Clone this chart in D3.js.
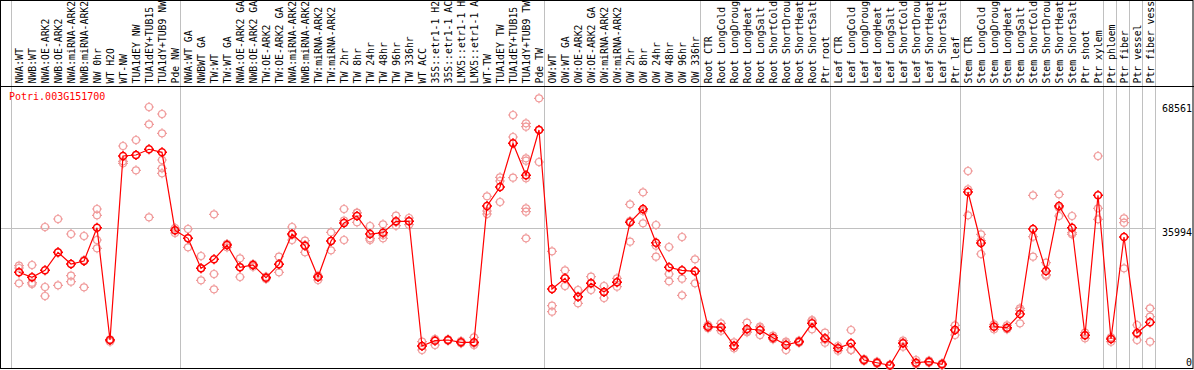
<!DOCTYPE html>
<html>
<head>
<meta charset="utf-8">
<script src="https://cdn.jsdelivr.net/npm/d3@7/dist/d3.min.js"></script>
<style>
  html, body { margin: 0; padding: 0; background: #fff; }
  svg { display: block; }
  text { font-family: "DejaVu Sans Mono", "Liberation Mono", monospace; font-size: 10px; }
  .sample-label { font-size: 9.8px; }
</style>
</head>
<body>
<div id="chart"></div>
<script>
/* global d3 */

const geneId = 'Potri.003G151700'

// sample groups, separated by grey lines
const nwSamples = ['NWA:WT', 'NWB:WT', 'NWA:OE-ARK2', 'NWB:OE-ARK2', 'NWA:miRNA-ARK2', 'NWB:miRNA-ARK2', 'NW 0hr', 'WT H2O', 'WT-NW', 'TUA1dEY NW', 'TUA1dEY+TUB15 NW', 'TUA1dY+TUB9 NW', 'Pde NW']
const twSamples = ['NWA:WT GA', 'NWBWT GA', 'TW:WT', 'TW:WT GA', 'NWA:OE-ARK2 GA', 'NWB:OE-ARK2 GA', 'TW:OE-ARK2', 'TW:OE-ARK2 GA', 'NWA:miRNA-ARK2 GA', 'NWB:miRNA-ARK2 GA', 'TW:miRNA-ARK2', 'TW:miRNA-ARK2 GA', 'TW 2hr', 'TW 8hr', 'TW 24hr', 'TW 48hr', 'TW 96hr', 'TW 336hr', 'WT ACC', '35S::etr1-1 H2O', '35S::etr1-1 ACC', 'LMX5::etr1-1 H2O', 'LMX5::etr1-1 ACC', 'WT-TW', 'TUA1dEY TW', 'TUA1dEY+TUB15 TW', 'TUA1dY+TUB9 TW', 'Pde TW']
const owSamples = ['OW:WT', 'OW:WT GA', 'OW:OE-ARK2', 'OW:OE-ARK2 GA', 'OW:miRNA-ARK2', 'OW:miRNA-ARK2 GA', 'OW 2hr', 'OW 8hr', 'OW 24hr', 'OW 48hr', 'OW 96hr', 'OW 336hr']
const rootSamples = ['Root CTR', 'Root LongCold', 'Root LongDrought', 'Root LongHeat', 'Root LongSalt', 'Root ShortCold', 'Root ShortDrought', 'Root ShortHeat', 'Root ShortSalt', 'Ptr root']
const leafSamples = ['Leaf CTR', 'Leaf LongCold', 'Leaf LongDrought', 'Leaf LongHeat', 'Leaf LongSalt', 'Leaf ShortCold', 'Leaf ShortDrought', 'Leaf ShortHeat', 'Leaf ShortSalt', 'Ptr leaf']
const stemSamples = ['Stem CTR', 'Stem LongCold', 'Stem LongDrought', 'Stem LongHeat', 'Stem LongSalt', 'Stem ShortCold', 'Stem ShortDrought', 'Stem ShortHeat', 'Stem ShortSalt', 'Ptr shoot', 'Ptr xylem']
const groups = [nwSamples, twSamples, owSamples, rootSamples, leafSamples, stemSamples, ['Ptr phloem'], ['Ptr fiber'], ['Ptr vessel'], ['Ptr fiber vessel']]
const samples = groups.flat()

// the header only has room for 14 characters
const labelChars = 14

// mean expression per sample
const means = [
  24520, 23210, 25040, 29750, 26690, 27480, 36190, 6800, 54950, 55210, 56710, 55920, 35510,
  33420, 25570, 27920, 31660, 25830, 26430, 23110, 26610, 34540, 31480, 23290, 32710, 37420, 39250, 34540,
  34880, 37870, 37870, 5230, 6620, 6800, 6200, 6200, 41870, 46840, 58280, 49900, 61760,
  20150, 22950, 18130, 21640, 19360, 21900, 37600, 41080, 32270, 25830, 25040, 24780,
  10280, 10130, 5310, 9680, 9420, 7410, 5500, 6360, 11170, 7250,
  4630, 5940, 1570, 860, 180, 5940, 860, 1130, 440, 9420,
  45530, 32190, 10280, 10020, 13610, 35850, 24860, 41870, 36190, 8030, 44670,
  7070, 33760, 8640, 11440
]

// replicate values per sample
const replicates = [
  [26250, 25650, 21640], [26430, 21800, 21460], [36370, 20670, 18320], [38470, 29670, 21120],
  [34540, 23630, 22060], [34020, 27740, 20590], [41080, 39440, 32970, 30800], [6990, 6800, 6360],
  [57570, 53570, 53040], [59140, 55210, 51210], [67780, 63250, 38910], [65940, 60890, 53910, 51730, 50430],
  [36110, 35510, 34800],
  [35850, 33500, 31060], [28780, 25570, 22430], [39700, 24070, 20070], [31920, 31920, 31060],
  [28180, 25910, 23290], [26690, 26430, 25990], [23370, 23110, 22770], [28600, 26690, 24520],
  [36370, 34280, 32970], [32790, 31660, 29750], [23630, 23290, 22500], [34990, 32710, 30280],
  [41080, 38020, 32970], [40120, 40040, 37600], [36640, 33420, 32970], [37080, 34280, 33420],
  [39330, 37680, 36710], [38730, 37940, 36980], [6360, 5230, 4190], [7070, 6800, 5500],
  [6990, 6800, 6620], [6540, 6280, 5940], [7510, 5940, 5500], [44410, 40560, 39780],
  [49380, 48410, 42920], [65680, 59930, 49270],
  [63510, 62620, 54350, 53720, 49120, 41270, 40380, 33420], [70050, 61840, 53380],
  [30010, 14210, 15780], [25040, 23030, 20930], [19890, 18060, 16410], [23370, 21720, 19890],
  [20930, 19360, 17790], [22950, 21980, 20750], [42310, 37940, 32530], [45450, 40560, 37340],
  [36900, 31480, 28600], [31140, 24070, 22160], [33760, 22840, 18500], [27920, 24860, 21640],
  [10730, 10210, 9870], [11170, 9940, 9240], [6200, 5230, 4630], [11330, 9160, 8820],
  [10280, 9940, 8110], [7930, 7330, 6990], [6360, 6020, 4190], [6620, 6360, 6100],
  [12040, 11780, 9600], [8710, 6930, 6100],
  [5230, 4710, 4000], [9420, 4190, 4190], [1860, 1570, 1280], [1130, 860, 600],
  [390, 180, 0], [6620, 6100, 5050], [1570, 520, 520], [1390, 1130, 860],
  [710, 440, 180], [10650, 9500, 8110],
  [51030, 46240, 39440], [34460, 32790, 29310], [10910, 10390, 9600], [10650, 9870, 9600],
  [15100, 14580, 11170], [44670, 33840, 28600], [27030, 23920, 23630], [44930, 41420, 39250],
  [39250, 34880, 34460], [8710, 8110, 7250], [54950, 41270, 38390],
  [7510, 7330, 6360], [38650, 37500, 25570], [10730, 8370, 6800], [15100, 12900, 6360]
]

const yTicks = [68561, 35994, 0]

const width = 1194
const height = 370
const labelBottom = 86
const plotBottom = 368

const xScale = d3.scaleBand()
  .domain(samples)
  .range([10.5, 1154.5])

const cx = (s) => xScale(s) + 8.5

const yScale = d3.scaleLinear()
  .domain([0, 68561])
  .range([366, 104])

// little circle with four ticks, like the original markers
const marker = (r) => {
  const p = d3.path()
  p.moveTo(r, 0)
  p.arc(0, 0, r, 0, 2 * Math.PI)
  p.moveTo(0, -r - 1.5); p.lineTo(0, -r)
  p.moveTo(0, r); p.lineTo(0, r + 1.5)
  p.moveTo(-r - 1.5, 0); p.lineTo(-r, 0)
  p.moveTo(r, 0); p.lineTo(r + 1.5, 0)
  return p.toString()
}

const svg = d3.select('#chart').append('svg')
  .attr('width', width)
  .attr('height', height)

// group separators
const boundaries = groups.map(g => xScale(g[0])).concat([xScale.range()[1]])
svg.append('g')
  .selectAll('line')
  .data(boundaries)
  .enter().append('line')
  .attr('x1', d => Math.round(d) + 0.5)
  .attr('x2', d => Math.round(d) + 0.5)
  .attr('y1', 0)
  .attr('y2', plotBottom)
  .attr('stroke', '#c0c0c0')

// mid reference line
svg.append('line')
  .attr('x1', 0)
  .attr('x2', Math.round(xScale.range()[1]) + 0.5)
  .attr('y1', Math.round(yScale(35994)) + 0.5)
  .attr('y2', Math.round(yScale(35994)) + 0.5)
  .attr('stroke', '#c0c0c0')

// frame
svg.append('rect')
  .attr('x', 0.5).attr('y', 0.5)
  .attr('width', 1192.5).attr('height', plotBottom)
  .attr('fill', 'none')
  .attr('stroke', '#000')
svg.append('line')
  .attr('x1', 0).attr('x2', 1194)
  .attr('y1', labelBottom + 0.5).attr('y2', labelBottom + 0.5)
  .attr('stroke', '#000')

// sample labels, rotated
svg.append('g')
  .selectAll('text')
  .data(samples)
  .enter().append('text')
  .attr('class', 'sample-label')
  .attr('transform', d => `translate(${cx(d) + 3.5},${labelBottom - 2.5}) rotate(-90)`)
  .attr('fill', '#000')
  .text(d => d.slice(0, labelChars).trim())

// right axis labels
const axis = svg.append('g')
  .attr('transform', 'translate(1192,0)')
  .call(d3.axisLeft(yScale).tickValues(yTicks).tickSize(0).tickPadding(0).tickFormat(d3.format('d')))
axis.select('.domain').remove()
axis.selectAll('text')
  .attr('fill', '#000')
  .style('font-family', '"DejaVu Sans Mono", monospace')
  .style('font-size', '10px')
  .attr('dy', d => d === 0 ? '-0.05em' : '0.75em')

// gene name
svg.append('text')
  .attr('x', 9)
  .attr('y', 100)
  .attr('fill', '#ff0000')
  .text(geneId)

// replicate points
const repPoints = samples.flatMap((s, i) => replicates[i].map(v => ({ s, v })))
svg.append('g')
  .selectAll('path')
  .data(repPoints)
  .enter().append('path')
  .attr('transform', d => `translate(${cx(d.s)},${yScale(d.v)})`)
  .attr('d', marker(3.5))
  .attr('fill', 'none')
  .attr('stroke', '#f09a9a')
  .attr('stroke-width', 1.2)

// mean line
svg.append('path')
  .datum(means)
  .attr('fill', 'none')
  .attr('stroke', '#ff0000')
  .attr('stroke-width', 1.2)
  .attr('d', d3.line()
    .x((d, i) => cx(samples[i]))
    .y(d => yScale(d)))

// mean points
svg.append('g')
  .selectAll('path')
  .data(means)
  .enter().append('path')
  .attr('transform', (d, i) => `translate(${cx(samples[i])},${yScale(d)})`)
  .attr('d', marker(3.5))
  .attr('fill', 'none')
  .attr('stroke', '#ff0000')
  .attr('stroke-width', 1.6)
</script>
</body>
</html>
